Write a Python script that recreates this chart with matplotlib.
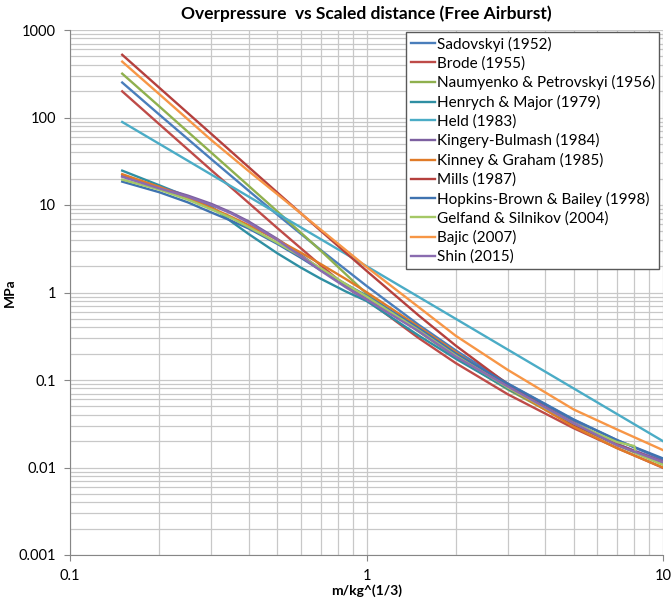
import matplotlib
matplotlib.use("Agg")
import matplotlib.pyplot as plt

plt.rcParams['font.family'] = ['Lato', 'DejaVu Sans']

# scaled distance Z (m/kg^(1/3))
z = [0.15, 0.2, 0.3, 0.4, 0.5, 0.7, 1, 1.5, 2, 3, 5, 7, 10]
# finer sampling for the curved low-range models
z_fine = [0.15, 0.2, 0.25, 0.3, 0.35, 0.4, 0.5, 0.6, 0.7, 0.85, 1, 1.5, 2, 3, 5, 7, 10]

# peak overpressure (MPa)
sadovskyi = [251, 108, 33.3, 14.6, 7.77, 3.07, 1.19, 0.427, 0.218, 0.091, 0.0354, 0.0206, 0.0123]
naumyenko = [317, 134, 39.5, 16.6, 8.46, 3.02, 0.97, 0.357, 0.183, 0.0777, 0.0306, 0.018, 0.0108]
held = [88.9, 50, 22.2, 12.5, 8, 4.08, 2, 0.889, 0.5, 0.222, 0.08, 0.0408, 0.02]
mills = [521, 219, 64.7, 27.2, 13.9, 5.09, 1.77, 0.546, 0.247, 0.089, 0.0312, 0.0183, 0.0114]
bajic = [435, 185, 55, 24.5, 13.3, 5.25, 1.96, 0.68, 0.32, 0.13, 0.046, 0.0272, 0.0158]

henrych = [24.7, 16.8, 12.4, 9.6, 6.47, 4.67, 2.81, 1.93, 1.44, 1.03, 0.8, 0.322, 0.175, 0.0793, 0.0321, 0.0187, 0.011]
kingery = [21.5, 16, 12.8, 10.3, 8.2, 6.5, 4.1, 2.7, 1.85, 1.2, 0.85, 0.37, 0.19, 0.085, 0.033, 0.0185, 0.0118]
kinney = [22.5, 16.1, 12.0, 9.25, 7.31, 5.89, 4.0, 2.86, 2.12, 1.43, 1.01, 0.406, 0.208, 0.0823, 0.0292, 0.0166, 0.01]
hopkins = [18.5, 14, 10.7, 8.2, 6.6, 5.4, 3.6, 2.5, 1.8, 1.25, 0.92, 0.39, 0.2, 0.09, 0.035, 0.0205, 0.0127]
shin = [21, 15.5, 12.4, 10, 8, 6.3, 4.0, 2.6, 1.78, 1.15, 0.83, 0.36, 0.185, 0.084, 0.032, 0.018, 0.0115]

# Brode has a step at ~1 MPa
z_brode = [0.15, 0.2, 0.3, 0.4, 0.5, 0.7, 0.9, 1, 1.5, 2, 3, 5, 7, 10]
brode = [199, 83.9, 24.9, 10.6, 5.46, 2.05, 1.02, 0.83, 0.301, 0.156, 0.0685, 0.0281, 0.0167, 0.0099]

# Gelfand has a small jump near Z = 8
z_gelfand = [0.15, 0.2, 0.25, 0.3, 0.35, 0.4, 0.5, 0.6, 0.7, 0.85, 1, 1.5, 2, 3, 5, 7, 8, 8.1, 10]
gelfand = [19.5, 15, 11.5, 8.9, 7.1, 5.6, 3.7, 2.6, 1.9, 1.25, 0.9, 0.37, 0.19, 0.082, 0.032, 0.0195, 0.0176, 0.0146, 0.0108]

series = [
    ("Sadovskyi (1952)", z, sadovskyi, "#4A7EBB"),
    ("Brode (1955)", z_brode, brode, "#BE4B48"),
    ("Naumyenko & Petrovskyi (1956)", z, naumyenko, "#8FB04E"),
    ("Henrych & Major (1979)", z_fine, henrych, "#2F8FA3"),
    ("Held (1983)", z, held, "#4BACC6"),
    ("Kingery-Bulmash (1984)", z_fine, kingery, "#7D60A0"),
    ("Kinney & Graham (1985)", z_fine, kinney, "#E07B28"),
    ("Mills (1987)", z, mills, "#B5403D"),
    ("Hopkins-Brown & Bailey (1998)", z_fine, hopkins, "#3F73B0"),
    ("Gelfand & Silnikov (2004)", z_gelfand, gelfand, "#A5C866"),
    ("Bajic (2007)", z, bajic, "#F79646"),
    ("Shin (2015)", z_fine, shin, "#8A6CB0"),
]

fig = plt.figure(figsize=(6.72, 5.99), dpi=100)
ax = fig.add_axes([70/672, 44/599, 593/672, 525/599])

for name, xs, ys, c in series:
    ax.plot(xs, ys, color=c, lw=1.7, label=name, solid_joinstyle='round')

ax.set_xscale('log')
ax.set_yscale('log')
ax.set_xlim(0.1, 10)
ax.set_ylim(0.001, 1000)

ax.set_xticks([0.1, 1, 10], ['0.1', '1', '10'])
ax.set_yticks([0.001, 0.01, 0.1, 1, 10, 100, 1000],
              ['0.001', '0.01', '0.1', '1', '10', '100', '1000'])
ax.tick_params(which='major', length=4, color='#868686', labelsize=10.5, pad=6)
ax.tick_params(which='minor', length=0)

ax.grid(True, which='both', color='#C8C8C8', lw=0.9)
ax.set_axisbelow(True)
for s in ['top', 'right']:
    ax.spines[s].set_visible(False)
for s in ['left', 'bottom']:
    ax.spines[s].set_color('#868686')

ax.set_title("Overpressure  vs Scaled distance (Free Airburst)", fontsize=12.5,
             fontweight='bold', pad=8)
ax.set_xlabel("m/kg^(1/3)", fontsize=10, fontweight='bold', labelpad=1)
ax.set_ylabel("MPa", fontsize=10, fontweight='bold', labelpad=2)

leg = fig.legend(loc='upper left', bbox_to_anchor=(406/672, 1 - 32/599),
                 fontsize=11, handlelength=1.6, handletextpad=0.1,
                 labelspacing=0.3, borderpad=0.3, fancybox=False,
                 framealpha=1, edgecolor='#595959', borderaxespad=0)
leg.get_frame().set_linewidth(1.0)

fig.savefig("out.png", dpi=100)
